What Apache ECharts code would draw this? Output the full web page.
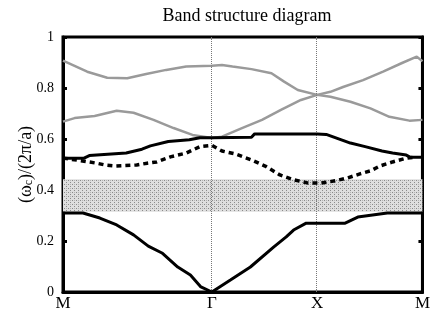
<!DOCTYPE html>
<html>
<head>
<meta charset="utf-8">
<script src="https://cdn.jsdelivr.net/npm/echarts@6/dist/echarts.min.js"></script>
<style>
html, body { margin: 0; padding: 0; background: #fff; }
#bandchart { width: 433px; height: 312px; }
</style>
</head>
<body>
<div id="bandchart"></div>
<script>
// *******Chart data*******
// path coordinate along M-Gamma-X-M (M-G has length sqrt2, G-X and X-M have length 1)
var pointNames = ['M', '\u0393', 'X', 'M'];
var pointPos = [0, 1.414, 2.414, 3.414];
var yTicks = [0, 0.2, 0.4, 0.6, 0.8, 1];
var gapRange = [0.315, 0.442];

// band 1 - lowest solid
var band1K = [0, 0.19, 0.35, 0.51, 0.67, 0.81, 0.94, 1.09, 1.21, 1.31, 1.414, 1.59, 1.78, 2.0, 2.12, 2.19, 2.31, 2.414, 2.68, 2.80, 3.08, 3.414];
var band1V = [0.31, 0.31, 0.29, 0.263, 0.224, 0.18, 0.153, 0.098, 0.067, 0.02, 0, 0.047, 0.098, 0.176, 0.216, 0.243, 0.27, 0.27, 0.27, 0.294, 0.31, 0.31];

// band 2 - dashed
var band2K = [0, 0.17, 0.32, 0.4, 0.5, 0.7, 0.8, 0.89, 1.02, 1.17, 1.3, 1.414, 1.51, 1.64, 1.79, 1.92, 2.06, 2.19, 2.33, 2.414, 2.45, 2.57, 2.70, 2.82, 2.92, 3.01, 3.13, 3.26, 3.33];
var band2V = [0.525, 0.515, 0.505, 0.498, 0.494, 0.498, 0.505, 0.51, 0.53, 0.545, 0.57, 0.575, 0.553, 0.541, 0.518, 0.494, 0.459, 0.44, 0.427, 0.427, 0.427, 0.435, 0.447, 0.463, 0.475, 0.494, 0.51, 0.525, 0.528];

// band 3 - upper solid
var band3K = [0, 0.2, 0.25, 0.6, 0.75, 0.83, 1.0, 1.2, 1.3, 1.414, 1.79, 1.82, 2.414, 2.5, 2.73, 2.87, 3.03, 3.13, 3.26, 3.3, 3.414];
var band3V = [0.525, 0.525, 0.535, 0.545, 0.56, 0.573, 0.59, 0.597, 0.605, 0.605, 0.607, 0.62, 0.62, 0.618, 0.584, 0.57, 0.553, 0.545, 0.537, 0.528, 0.528];

// band 4 - lower gray
var band4K = [0, 0.11, 0.30, 0.51, 0.67, 0.86, 1.05, 1.23, 1.414, 1.51, 1.70, 1.89, 2.07, 2.26, 2.414, 2.54, 2.73, 2.92, 3.10, 3.29, 3.414];
var band4V = [0.668, 0.682, 0.69, 0.711, 0.703, 0.675, 0.643, 0.616, 0.604, 0.609, 0.643, 0.675, 0.714, 0.753, 0.773, 0.766, 0.746, 0.72, 0.687, 0.672, 0.675];

// band 5 - upper gray
var band5K = [0, 0.23, 0.42, 0.61, 0.79, 0.98, 1.17, 1.414, 1.51, 1.61, 1.79, 1.98, 2.10, 2.23, 2.414, 2.54, 2.66, 2.85, 3.04, 3.22, 3.36, 3.414];
var band5V = [0.907, 0.864, 0.84, 0.838, 0.855, 0.871, 0.884, 0.887, 0.89, 0.884, 0.874, 0.858, 0.825, 0.792, 0.773, 0.785, 0.804, 0.831, 0.864, 0.898, 0.923, 0.905];

function zip(k, v) {
    var out = [];
    for (var i = 0; i < k.length; i++) {
        out.push([k[i], v[i]]);
    }
    return out;
}

// stipple pattern for the gap area
function makeStipple() {
    var c = document.createElement('canvas');
    c.width = 4;
    c.height = 4;
    var ctx = c.getContext('2d');
    ctx.fillStyle = '#dedede';
    ctx.fillRect(0, 0, 4, 4);
    ctx.fillStyle = '#8a8a8a';
    ctx.fillRect(0, 0, 1, 1);
    ctx.fillRect(2, 2, 1, 1);
    ctx.fillStyle = '#b4b4b4';
    ctx.fillRect(2, 0, 1, 1);
    return c;
}

var serif = '"Liberation Serif", "DejaVu Serif", serif';

var myChart = echarts.init(document.getElementById('bandchart'));

var blackLine = { color: '#000', width: 3 };

var option = {
    animation: false,
    backgroundColor: '#fff',
    title: {
        text: 'Band structure diagram',
        left: 247,
        top: 7,
        textAlign: 'center',
        padding: 0,
        textStyle: { fontFamily: serif, fontSize: 18, fontWeight: 'normal', color: '#000' }
    },
    grid: {
        left: 63, right: 5, top: 37, bottom: 20,
        show: true,
        borderColor: '#000',
        borderWidth: 3
    },
    xAxis: {
        type: 'value',
        min: 0,
        max: pointPos[pointPos.length - 1],
        splitLine: { show: false },
        axisLine: { lineStyle: { color: '#000', width: 3 } },
        axisTick: { show: false },
        axisLabel: {
            customValues: pointPos,
            formatter: function (val) {
                for (var i = 0; i < pointPos.length; i++) {
                    if (Math.abs(pointPos[i] - val) < 1e-6) return pointNames[i];
                }
                return '';
            },
            color: '#000',
            fontFamily: serif,
            fontSize: 17,
            margin: 3
        }
    },
    yAxis: [{
        type: 'value',
        min: yTicks[0],
        max: yTicks[yTicks.length - 1],
        interval: 0.2,
        name: '{t|(\u03c9}{s|c}{t|)/(2\u03c0/a)}',
        nameLocation: 'middle',
        nameGap: 28,
        nameMoveOverlap: false,
        nameTextStyle: {
            fontFamily: serif,
            fontSize: 18,
            color: '#000',
            rich: {
                t: { fontFamily: serif, fontSize: 18, color: '#000' },
                s: { fontFamily: serif, fontSize: 12, color: '#000', verticalAlign: 'bottom' }
            }
        },
        splitLine: { show: false },
        axisLine: { lineStyle: { color: '#000', width: 3 } },
        axisTick: { inside: true, length: 4, lineStyle: { color: '#000', width: 3 } },
        axisLabel: { color: '#000', fontFamily: serif, fontSize: 14, margin: 9 }
    }, {
        type: 'value',
        position: 'right',
        min: yTicks[0],
        max: yTicks[yTicks.length - 1],
        interval: 0.2,
        splitLine: { show: false },
        axisLine: { lineStyle: { color: '#000', width: 3 } },
        axisTick: { inside: true, length: 4, lineStyle: { color: '#000', width: 3 } },
        axisLabel: { show: false }
    }],
    series: [
        {
            type: 'line',
            data: zip(band1K, band1V),
            symbol: 'none',
            lineStyle: blackLine,
            z: 5,
            markArea: {
                silent: true,
                itemStyle: { color: { image: makeStipple(), repeat: 'repeat' } },
                data: [[{ yAxis: gapRange[0] }, { yAxis: gapRange[1] }]]
            },
            markLine: {
                silent: true,
                symbol: ['none', 'none'],
                label: { show: false },
                lineStyle: { type: 'dotted', color: '#777', width: 1 },
                data: [{ xAxis: pointPos[1] }, { xAxis: pointPos[2] }]
            }
        },
        {
            type: 'line',
            data: zip(band2K, band2V),
            symbol: 'none',
            lineStyle: { color: '#000', width: 3.5, type: [5, 4] },
            z: 5
        },
        {
            type: 'line',
            data: zip(band3K, band3V),
            symbol: 'none',
            lineStyle: blackLine,
            z: 5
        },
        {
            type: 'line',
            data: zip(band4K, band4V),
            symbol: 'none',
            lineStyle: { color: '#9a9a9a', width: 2.5 },
            z: 4
        },
        {
            type: 'line',
            data: zip(band5K, band5V),
            symbol: 'none',
            lineStyle: { color: '#9a9a9a', width: 2.5 },
            z: 4
        }
    ]
};

myChart.setOption(option);
</script>
</body>
</html>
